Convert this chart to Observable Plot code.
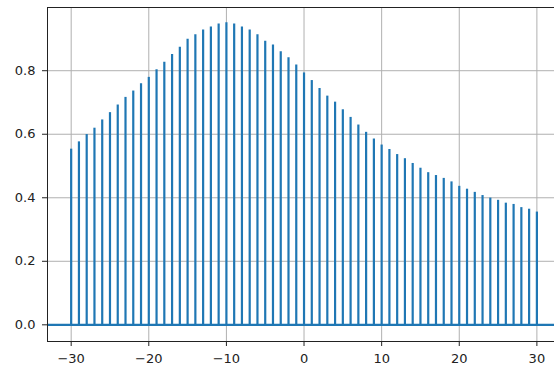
<!DOCTYPE html>
<html>
<head>
<meta charset="utf-8">
<script src="https://cdn.jsdelivr.net/npm/d3@7"></script>
<script src="https://cdn.jsdelivr.net/npm/@observablehq/plot@0.6"></script>
<style>
  html, body { margin: 0; padding: 0; background: #fff; }
  #chart svg text { font-size: 13px !important; font-family: "DejaVu Sans", sans-serif !important; }
</style>
</head>
<body>
<div id="chart"></div>
<script>
const xValues = [-30,-29,-28,-27,-26,-25,-24,-23,-22,-21,-20,-19,-18,-17,-16,-15,-14,-13,-12,-11,-10,-9,-8,-7,-6,-5,-4,-3,-2,-1,0,1,2,3,4,5,6,7,8,9,10,11,12,13,14,15,16,17,18,19,20,21,22,23,24,25,26,27,28,29,30];
const yValues = [0.553,0.576,0.599,0.619,0.645,0.668,0.692,0.716,0.736,0.759,0.779,0.803,0.827,0.851,0.874,0.899,0.913,0.928,0.938,0.947,0.951,0.947,0.938,0.928,0.913,0.893,0.881,0.860,0.841,0.818,0.793,0.769,0.744,0.720,0.701,0.677,0.653,0.629,0.606,0.585,0.566,0.552,0.536,0.523,0.508,0.493,0.479,0.470,0.461,0.450,0.436,0.427,0.417,0.407,0.399,0.392,0.383,0.379,0.369,0.364,0.355];
const xTicks = [-30,-20,-10,0,10,20,30];
const yTicks = [0.0,0.2,0.4,0.6,0.8];

const data = xValues.map((x, i) => ({x, y: yValues[i]}));
const blue = "#1f77b4";

const chart = Plot.plot({
  width: 554,
  height: 371,
  marginLeft: 47,
  marginRight: 0,
  marginTop: 7,
  marginBottom: 30,
  style: {fontFamily: "DejaVu Sans", fontSize: "13px", color: "#222", background: "#fff"},
  x: {domain: [-33.05, 32.27]},
  y: {domain: [-0.0525, 0.999]},
  marks: [
    Plot.gridX(xTicks, {stroke: "#b0b0b0", strokeOpacity: 1, strokeWidth: 1}),
    Plot.gridY(yTicks, {stroke: "#b0b0b0", strokeOpacity: 1, strokeWidth: 1}),
    Plot.ruleX(data, {x: "x", y1: 0, y2: "y", stroke: blue, strokeWidth: 2.2}),
    Plot.ruleY([0], {stroke: blue, strokeWidth: 2.2}),
    Plot.axisX({ticks: xTicks, tickSize: 5, tickPadding: 7, label: null, fontSize: 13}),
    Plot.axisY({ticks: yTicks, tickSize: 5, tickPadding: 7, tickFormat: d3.format(".1f"), label: null, fontSize: 13}),
    Plot.frame({anchor: "left", stroke: "#222", strokeWidth: 1}),
    Plot.frame({anchor: "top", stroke: "#222", strokeWidth: 1}),
    Plot.frame({anchor: "bottom", stroke: "#222", strokeWidth: 1})
  ]
});
document.getElementById("chart").appendChild(chart);
</script>
</body>
</html>
